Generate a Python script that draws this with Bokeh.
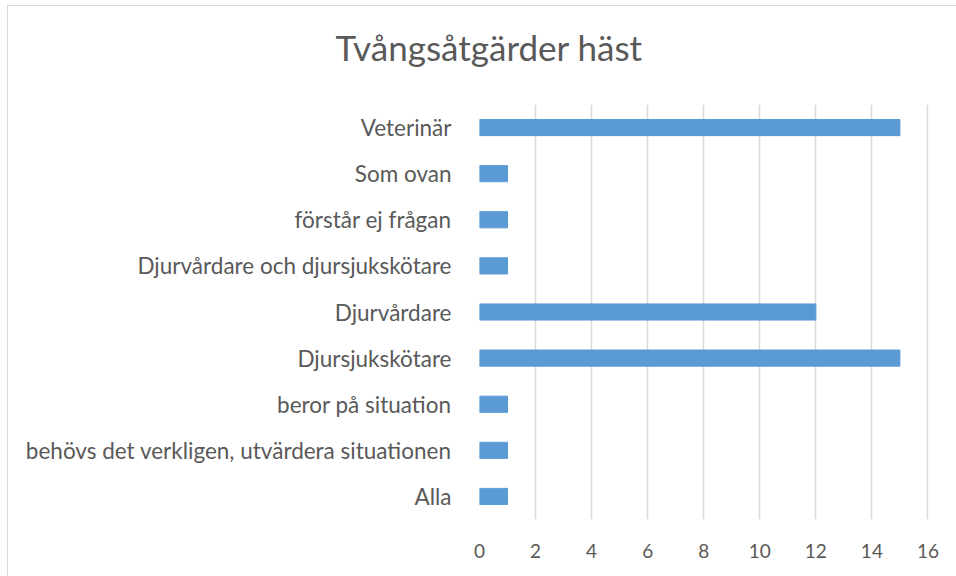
from bokeh.plotting import figure
from bokeh.models import Range1d, FactorRange, FixedTicker, Title
from bokeh.embed import file_html
from bokeh.resources import INLINE

categories = ["Alla", "behövs det verkligen, utvärdera situationen", "beror på situation",
              "Djursjukskötare", "Djurvårdare", "Djurvårdare och djursjukskötare",
              "förstår ej frågan", "Som ovan", "Veterinär"]
values = [1, 1, 1, 15, 12, 1, 1, 1, 15]
x_ticks = [0, 2, 4, 6, 8, 10, 12, 14, 16]
title_text = "Tvångsåtgärder häst"

FONT = "Lato"
TXT = "#595959"

p = figure(width=949, height=571, output_backend="svg", toolbar_location=None,
           y_range=FactorRange(factors=categories, range_padding=0),
           x_range=Range1d(0, 16.02), title=None,
           min_border_left=471, min_border_right=29, min_border_top=98, min_border_bottom=58)

p.hbar(y=categories, right=values, left=0, height=0.35, color="#5b9bd5")

# spacer between frame and title (closest to frame)
p.add_layout(Title(text=" ", text_font_size="1px", standoff=34), "above")
p.add_layout(Title(text=title_text, align="left", offset=-144, text_font=FONT,
                   text_font_size="35px", text_font_style="normal", text_color=TXT,
                   standoff=0), "above")

p.xaxis.ticker = FixedTicker(ticks=x_ticks)
p.xaxis.axis_line_color = None
p.xaxis.major_tick_line_color = None
p.xaxis.minor_tick_line_color = None
p.xaxis.major_label_text_font = FONT
p.xaxis.major_label_text_font_size = "19px"
p.xaxis.major_label_text_color = TXT
p.xaxis.major_label_standoff = 18

p.yaxis.axis_line_color = None
p.yaxis.major_tick_line_color = None
p.yaxis.major_label_text_font = FONT
p.yaxis.major_label_text_font_size = "22.5px"
p.yaxis.major_label_text_color = TXT
p.yaxis.major_label_standoff = 22

p.xgrid.grid_line_color = "#d9d9d9"
p.xgrid.grid_line_width = 1.5
p.ygrid.grid_line_color = None
p.outline_line_color = None

p.styles = {"margin-left": "7px", "margin-top": "5px",
            "border-top": "1px solid #d9d9d9", "border-left": "1px solid #d9d9d9"}

open("out.html", "w").write(file_html(p, INLINE))
